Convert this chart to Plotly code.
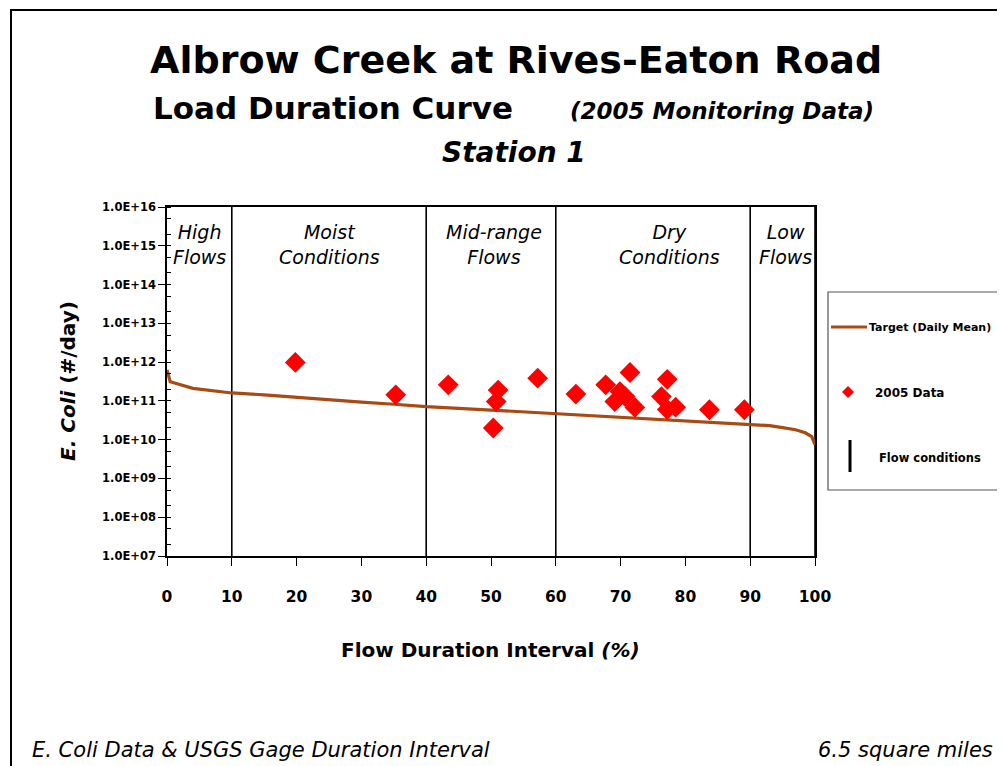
import plotly.graph_objects as go

# ---------------- data ----------------
target_x = [0, 0.5, 4, 10, 15, 20, 25, 30, 35, 40, 50, 55, 60, 65, 70, 75, 80, 85, 90, 93, 95, 97, 98.5, 99.5, 100]
target_y = [6.3e11, 3.1e11, 2.1e11, 1.6e11, 1.43e11, 1.22e11, 1.06e11, 9.3e10, 8.2e10, 7.1e10, 5.8e10, 5.2e10,
            4.8e10, 4.2e10, 3.8e10, 3.5e10, 3.0e10, 2.8e10, 2.5e10, 2.3e10, 2.05e10, 1.8e10, 1.5e10, 1.2e10, 7.4e9]

data_x = [19.8, 35.3, 43.4, 51.1, 50.8, 50.35, 57.2, 63.1, 67.7, 69.9, 69.1, 70.7, 71.45, 72.2,
          76.3, 77.2, 77.2, 78.5, 83.7, 89.1]
data_y = [9.8e11, 1.43e11, 2.6e11, 1.9e11, 9.6e10, 2.0e10, 3.85e11, 1.5e11, 2.6e11, 1.74e11, 9.6e10, 1.29e11,
          5.4e11, 6.8e10, 1.29e11, 3.6e11, 6.0e10, 6.9e10, 5.9e10, 5.9e10]

flow_breaks = [10, 40, 60, 90, 100]
zone_centers = [5, 25, 50.5, 77.5, 95.5]
zone_labels = ["High<br>Flows", "Moist<br>Conditions", "Mid-range<br>Flows", "Dry<br>Conditions", "Low<br>Flows"]

ytick_vals = [1e7, 1e8, 1e9, 1e10, 1e11, 1e12, 1e13, 1e14, 1e15, 1e16]
ytick_text = ["1.0E+07", "1.0E+08", "1.0E+09", "1.0E+10", "1.0E+11", "1.0E+12", "1.0E+13", "1.0E+14",
              "1.0E+15", "1.0E+16"]
xtick_vals = [0, 10, 20, 30, 40, 50, 60, 70, 80, 90, 100]

# ---------------- layout helpers ----------------
OFF = 8                     # page body margin of the html page
W, H = 1005 - OFF, 766 - OFF
L, R, T, B = 167, 815, 207, 556   # plot area in page pixels
FONT = "DejaVu Sans"
BROWN = "#A84A14"


def px(x):
    return (x - L) / (R - L)


def py(y):
    return (B - y) / (B - T)


fig = go.Figure()

# flow condition lines
fx, fy = [], []
for b in flow_breaks:
    fx += [b, b, None]
    fy += [1e7, 1e16, None]
fig.add_trace(go.Scatter(x=fx, y=fy, mode="lines", line=dict(color="black", width=1.6),
                         name="Flow conditions", showlegend=False, hoverinfo="skip"))

fig.add_trace(go.Scatter(x=target_x, y=target_y, mode="lines", line=dict(color=BROWN, width=3.2),
                         name="Target (Daily Mean)", showlegend=False))

fig.add_trace(go.Scatter(x=data_x, y=data_y, mode="markers",
                         marker=dict(symbol="diamond", size=16, color="#FF0000"),
                         name="2005 Data", showlegend=False))

annotations = []
# titles
annotations.append(dict(x=px(516), y=py(60), text="<b>Albrow Creek at Rives-Eaton Road</b>",
                        font=dict(size=38, family=FONT, color="black")))
annotations.append(dict(x=px(333), y=py(108), text="<b>Load Duration Curve</b>",
                        font=dict(size=31, family=FONT, color="black")))
annotations.append(dict(x=px(722), y=py(111), text="<b><i>(2005 Monitoring Data)</i></b>",
                        font=dict(size=23, family=FONT, color="black")))
annotations.append(dict(x=px(514), y=py(152), text="<b><i>Station 1</i></b>",
                        font=dict(size=28, family=FONT, color="black")))
# zone labels
for xc, lab in zip(zone_centers, zone_labels):
    annotations.append(dict(x=xc, xref="x", y=py(244), text="<i>" + lab + "</i>",
                            font=dict(size=19, family=FONT, color="black")))
# axis titles
annotations.append(dict(x=px(490), y=py(650), text="<b>Flow Duration Interval <i>(%)</i></b>",
                        font=dict(size=20, family=FONT, color="black")))
annotations.append(dict(x=px(68), y=py(381), text="<b><i>E. Coli</i> (#/day)</b>", textangle=-90,
                        font=dict(size=20, family=FONT, color="black")))
# bottom notes
annotations.append(dict(x=px(30), y=py(750), xanchor="left",
                        text="<i>E. Coli Data &amp; USGS Gage Duration Interval</i>",
                        font=dict(size=21, family=FONT, color="black")))
annotations.append(dict(x=px(995), y=py(750), xanchor="right", text="<i>6.5 square miles</i>",
                        font=dict(size=21, family=FONT, color="black")))
# manual legend texts
annotations.append(dict(x=px(867), y=py(327), xanchor="left", text="<b>Target (Daily Mean)</b>",
                        font=dict(size=11, family=FONT, color="black")))
annotations.append(dict(x=px(873), y=py(393), xanchor="left", text="<b>2005 Data</b>",
                        font=dict(size=12, family=FONT, color="black")))
annotations.append(dict(x=px(877), y=py(458), xanchor="left", text="<b>Flow conditions</b>",
                        font=dict(size=11.5, family=FONT, color="black")))

for a in annotations:
    a.setdefault("xref", "paper")
    a.setdefault("yref", "paper")
    a["showarrow"] = False
    a.setdefault("xanchor", "center")
    a["yanchor"] = "middle"

shapes = [
    # page frame
    dict(type="rect", xref="paper", yref="paper", x0=px(11), x1=px(1030), y0=py(800), y1=py(10),
         line=dict(color="black", width=2)),
    # legend box
    dict(type="rect", xref="paper", yref="paper", x0=px(828), x1=px(1030), y0=py(490), y1=py(292),
         line=dict(color="#555555", width=1.2), fillcolor="white"),
    dict(type="line", xref="paper", yref="paper", x0=px(831), x1=px(867), y0=py(327), y1=py(327),
         line=dict(color=BROWN, width=3)),
    dict(type="path", xref="paper", yref="paper",
         path="M {} {} L {} {} L {} {} L {} {} Z".format(px(842), py(392), px(848), py(386),
                                                         px(854), py(392), px(848), py(398)),
         fillcolor="#FF0000", line=dict(color="#FF0000", width=0)),
    dict(type="line", xref="paper", yref="paper", x0=px(850), x1=px(850), y0=py(440), y1=py(472),
         line=dict(color="black", width=3)),
]

fig.update_layout(
    width=W, height=H,
    margin=dict(l=L - OFF, r=W - (R - OFF), t=T - OFF, b=H - (B - OFF), pad=0),
    paper_bgcolor="white", plot_bgcolor="white",
    showlegend=False,
    annotations=annotations,
    shapes=shapes,
    font=dict(family=FONT, color="black"),
    xaxis=dict(range=[0, 100], tickvals=xtick_vals, ticks="outside", ticklen=8, tickwidth=1.3,
               tickcolor="black", showline=True, linecolor="black", linewidth=1.6, mirror=True,
               showgrid=False, zeroline=False, ticklabelstandoff=18,
               tickfont=dict(size=15.5, family=FONT, color="black", weight="bold")),
    yaxis=dict(type="log", range=[7, 16], tickvals=ytick_vals, ticktext=ytick_text,
               ticks="outside", ticklen=7, tickwidth=1.3, tickcolor="black",
               showline=True, linecolor="black", linewidth=1.6, mirror=True,
               showgrid=False, zeroline=False,
               minor=dict(ticks="inside", ticklen=4, tickcolor="black", tickwidth=1, showgrid=False),
               tickfont=dict(size=11.5, family=FONT, color="black", weight="bold")),
)

fig.write_html("out.html")
